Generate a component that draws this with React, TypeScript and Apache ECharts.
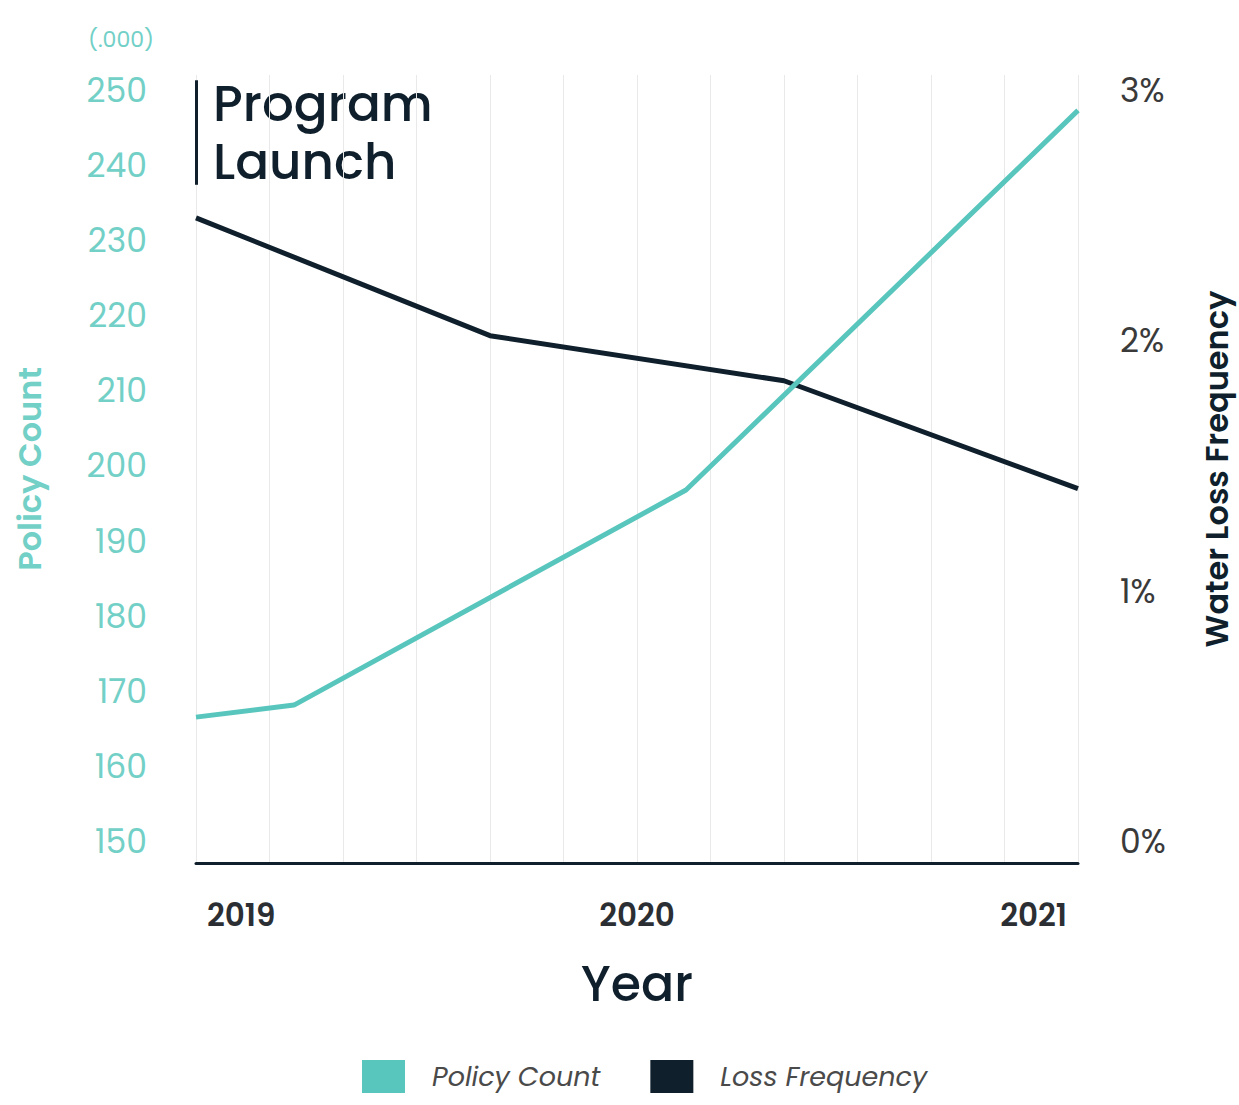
import React, { useEffect, useRef } from "react";
import * as echarts from "echarts";

// x positions in months since launch (grid lines every 3 months)
const policyMonths = [0, 4, 20, 36];
const policyCount = [166.6, 168.2, 196.8, 247.3]; // thousands
const lossMonths = [0, 12, 24, 36];
const lossFrequency = [2.49, 2.02, 1.84, 1.41]; // percent
const yearLabels = ["2019", "2020", "2021"];
const policyTicks = [150, 160, 170, 180, 190, 200, 210, 220, 230, 240, 250];
const lossTicks = [0, 1, 2, 3];
const launchRange = [237.4, 251.3];

const TEAL = "#58c6bd";
const TEAL_LABEL = "#72d0c7";
const NAVY = "#0f1f2c";
const FONT = "Poppins, 'Noto Sans', sans-serif";

export default function App() {
  const ref = useRef<HTMLDivElement>(null);
  useEffect(() => {
    if (!ref.current) return;
    const chart = echarts.init(ref.current, undefined, { renderer: "svg" });
    const yearRich = { fontSize: 31, fontWeight: 600, color: "#2b2f33", fontFamily: FONT };
    chart.setOption({
      animation: false,
      backgroundColor: "#ffffff",
      textStyle: { fontFamily: FONT },
      grid: { left: 196, right: 161, top: 75, bottom: 242, containLabel: false, outerBoundsMode: "none" },
      legend: {
        top: 1055,
        left: 357,
        icon: "rect",
        itemWidth: 43,
        itemHeight: 33,
        itemGap: 50,
        data: ["Policy Count", "Loss Frequency"],
        textStyle: {
          fontFamily: FONT,
          fontSize: 27,
          fontStyle: "italic",
          color: "#4a4a4a",
          padding: [0, 0, 0, 22],
        },
      },
      xAxis: [
        {
          type: "value",
          min: 0,
          max: 36,
          interval: 3,
          axisLine: { show: true, onZero: false, lineStyle: { color: NAVY, width: 3 } },
          axisTick: { show: false },
          axisLabel: { show: false },
          splitLine: { show: true, lineStyle: { color: "#e9e9e9", width: 1 } },
        },
        {
          type: "category",
          position: "bottom",
          boundaryGap: false,
          data: yearLabels,
          axisLine: { show: false, onZero: false },
          axisTick: { show: false },
          splitLine: { show: false },
          axisLabel: {
            margin: 36,
            fontSize: 31,
            fontWeight: 600,
            color: "#2b2f33",
            fontFamily: FONT,
            alignMinLabel: "left",
            alignMaxLabel: "right",
            formatter: (v: string, i: number) =>
              i === 0 ? `{l|${v}}` : i === yearLabels.length - 1 ? `{r|${v}}` : `{m|${v}}`,
            rich: {
              l: { ...yearRich, padding: [0, 0, 0, 11] },
              r: { ...yearRich, padding: [0, 11, 0, 0] },
              m: { ...yearRich },
            },
          },
          name: "Year",
          nameLocation: "middle",
          nameGap: 96,
          nameTextStyle: { fontSize: 49, fontWeight: 500, color: NAVY, fontFamily: FONT },
        },
      ],
      yAxis: [
        {
          type: "value",
          position: "left",
          min: 147.2,
          max: 252,
          axisLine: { show: false },
          axisTick: { show: false },
          splitLine: { show: false },
          axisLabel: {
            customValues: policyTicks,
            margin: 49,
            fontSize: 33,
            color: TEAL_LABEL,
            fontFamily: FONT,
          },
          name: "Policy Count",
          nameLocation: "middle",
          nameRotate: 90,
          nameGap: 151,
          nameTextStyle: { fontSize: 32, fontWeight: 600, color: TEAL_LABEL, fontFamily: FONT },
        },
        {
          type: "value",
          position: "right",
          min: -0.084,
          max: 3.06,
          axisLine: { show: false },
          axisTick: { show: false },
          splitLine: { show: false },
          axisLabel: {
            customValues: lossTicks,
            margin: 42,
            fontSize: 33,
            color: "#3a3a3a",
            fontFamily: FONT,
            formatter: (v: number) => `${v}%`,
          },
          name: "Water Loss Frequency",
          nameLocation: "middle",
          nameRotate: 90,
          nameGap: 122,
          nameTextStyle: { fontSize: 32, fontWeight: 600, color: NAVY, fontFamily: FONT },
        },
      ],
      graphic: [
        {
          type: "text",
          left: 88,
          top: 28,
          style: { text: "(.000)", fontSize: 22, fill: TEAL_LABEL, fontFamily: FONT },
        },
        {
          type: "text",
          left: 213,
          top: 74,
          style: {
            text: "Program\nLaunch",
            fontSize: 50,
            lineHeight: 58,
            fontWeight: 500,
            fill: NAVY,
            fontFamily: FONT,
          },
        },
      ],
      series: [
        {
          name: "Policy Count",
          type: "line",
          xAxisIndex: 0,
          yAxisIndex: 0,
          data: policyMonths.map((m, i) => [m, policyCount[i]]),
          showSymbol: false,
          symbol: "none",
          color: TEAL,
          lineStyle: { color: TEAL, width: 5 },
          z: 3,
          markLine: {
            silent: true,
            symbol: "none",
            label: { show: false },
            lineStyle: { color: NAVY, width: 3, type: "solid" },
            data: [[{ coord: [0, launchRange[1]] }, { coord: [0, launchRange[0]] }]],
          },
        },
        {
          name: "Loss Frequency",
          type: "line",
          xAxisIndex: 0,
          yAxisIndex: 1,
          data: lossMonths.map((m, i) => [m, lossFrequency[i]]),
          showSymbol: false,
          symbol: "none",
          color: NAVY,
          lineStyle: { color: NAVY, width: 5 },
          z: 2,
        },
      ],
    });
    return () => chart.dispose();
  }, []);
  return <div ref={ref} style={{ width: 1239, height: 1105, position: "absolute", left: 0, top: 0 }} />;
}
